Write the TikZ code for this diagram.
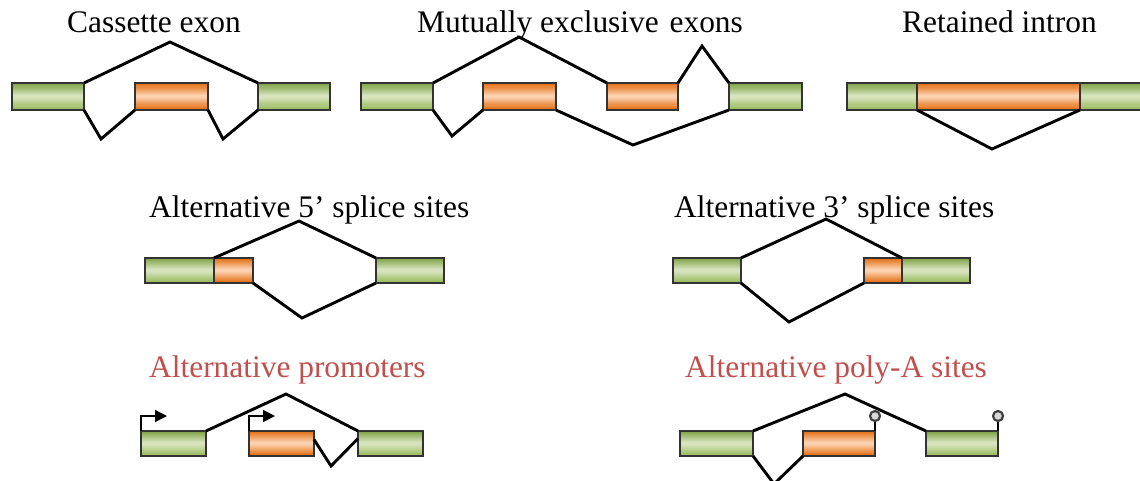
\documentclass[tikz,border=0pt]{standalone}
\usepackage{fontspec}
\setmainfont{Liberation Serif}
\usetikzlibrary{arrows.meta,calc}
\definecolor{exgreenA}{RGB}{122,158,64}
\definecolor{exgreenB}{RGB}{218,230,194}
\definecolor{exgreenC}{RGB}{150,184,88}
\definecolor{exorangeA}{RGB}{226,104,8}
\definecolor{exorangeB}{RGB}{252,214,182}
\definecolor{titlered}{RGB}{192,80,77}
\tikzset{
  % vertical three-colour gradient drawn as thin stripes
  stripefill/.style n args={3}{path picture={
    \foreach \k in {0,...,23}{
      \pgfmathsetmacro\pct{abs(100*(1-2*(\k+0.5)/24))}
      \ifnum\k<12 \def\edgecol{#1}\else\def\edgecol{#3}\fi
      \fill[\edgecol!\pct!#2]
        ($(path picture bounding box.north west)!{\k/24}!(path picture bounding box.south west)$)
        rectangle
        ($(path picture bounding box.north east)!{(\k+1.6)/24}!(path picture bounding box.south east)$);
    }}},
  exonbox/.style={draw=black!80, line width=1.5pt, anchor=north west, inner sep=0pt, outer sep=0pt},
  gbox/.style={exonbox, stripefill={exgreenA}{exgreenB}{exgreenC}},
  obox/.style={exonbox, stripefill={exorangeA}{exorangeB}{exorangeA}},
  junction/.style={draw=black, line width=2.9pt, line join=miter},
  title/.style={anchor=base west, inner sep=0pt, font=\fontsize{31.4}{38}\selectfont},
  promarrow/.style={draw=black, line width=1.5pt, -{Triangle[length=12pt,width=12pt]}},
  polya/.style={circle, draw=black!75, line width=2.2pt, fill=gray!30, minimum size=10pt, inner sep=0pt},
}
% exon box: name, left x, top y, width, height
\newcommand{\gexon}[5]{\node[gbox, minimum width=#4pt, minimum height=#5pt] (#1) at (#2,#3) {};}
\newcommand{\oexon}[5]{\node[obox, minimum width=#4pt, minimum height=#5pt] (#1) at (#2,#3) {};}
\begin{document}
\begin{tikzpicture}[x=1pt, y=-1pt]
\useasboundingbox (0,0) rectangle (1140,480);
\clip (0,0) rectangle (1140,480);

% ---------- titles ----------
\node[title] (tcas) at (67,32) {Cassette exon};
\node[title] (tmut) at (417,32) {Mutually exclusive\kern3pt\ exons};
\node[title] (tret) at (902,32) {Retained intron};
\node[title] (tfive) at (149,217) {Alternative 5’ splice sites};
\node[title] (tthree) at (674,217) {Alternative 3’ splice sites};
\node[title, text=titlered] (tprom) at (149,377) {Alternative promoters};
\node[title, text=titlered] (tpoly) at (685,377) {Alternative poly-A sites};

% ---------- cassette exon ----------
\gexon{c1}{12}{83}{72}{27}
\oexon{c2}{135}{83}{73}{27}
\gexon{c3}{258}{83}{72}{27}
\coordinate (cpk) at (170,42);
\coordinate (cv1) at (101,139);
\coordinate (cv2) at (223,139);
\draw[junction] (c1.north east) -- (cpk) -- (c3.north west);
\draw[junction] (c1.south east) -- (cv1) -- (c2.south west);
\draw[junction] (c2.south east) -- (cv2) -- (c3.south west);

% ---------- mutually exclusive exons ----------
\gexon{m1}{361}{83}{72}{27}
\oexon{m2}{483}{83}{73}{27}
\oexon{m3}{607}{83}{71}{27}
\gexon{m4}{729}{83}{73}{27}
\coordinate (mpk1) at (519,37);
\coordinate (mpk2) at (702,46);
\coordinate (mv1) at (452,136);
\coordinate (mv2) at (633,145);
\draw[junction] (m1.north east) -- (mpk1) -- (m3.north west);
\draw[junction] (m3.north east) -- (mpk2) -- (m4.north west);
\draw[junction] (m1.south east) -- (mv1) -- (m2.south west);
\draw[junction] (m2.south east) -- (mv2) -- (m4.south west);

% ---------- retained intron ----------
\gexon{r1}{847}{83}{70}{27}
\oexon{r2}{917}{83}{163}{27}
\gexon{r3}{1080}{83}{70}{27}
\coordinate (rv) at (992,149);
\draw[junction] (r2.south west) -- (rv) -- (r2.south east);

% ---------- alternative 5' splice sites ----------
\gexon{f1}{145}{258}{69}{25}
\oexon{f2}{214}{258}{39}{25}
\gexon{f3}{376}{258}{68}{25}
\coordinate (fpk) at (299,221);
\coordinate (fv) at (302,318);
\draw[junction] (f2.north west) -- (fpk) -- (f3.north west);
\draw[junction] (f2.south east) -- (fv) -- (f3.south west);

% ---------- alternative 3' splice sites ----------
\gexon{t1}{673}{258}{68}{25}
\oexon{t2}{864}{258}{38}{25}
\gexon{t3}{902}{258}{68}{25}
\coordinate (tpk) at (826,219);
\coordinate (tv) at (789,322);
\draw[junction] (t1.north east) -- (tpk) -- (t3.north west);
\draw[junction] (t1.south east) -- (tv) -- (t2.south west);

% ---------- alternative promoters ----------
\gexon{p1}{141}{431}{65}{25}
\oexon{p2}{249}{431}{65}{25}
\gexon{p3}{358}{431}{65}{25}
\coordinate (ppk) at (286,394);
\coordinate (pv) at (331,466);
\draw[junction] (p1.north east) -- (ppk) -- (p3.north west);
\draw[junction] ([yshift=4pt]p2.east) -- (pv) -- ([yshift=5pt]p3.west);
\draw[promarrow] (p1.north west) |- ++(26,-15);
\draw[promarrow] (p2.north west) |- ++(26,-15);

% ---------- alternative poly-A sites ----------
\gexon{a1}{680}{431}{73}{25}
\oexon{a2}{803}{431}{72}{25}
\gexon{a3}{926}{431}{72}{25}
\coordinate (apk) at (845,394);
\coordinate (av) at (774,484);
\draw[junction] (a1.north east) -- (apk) -- (a3.north west);
\draw[junction] (a1.south east) -- (av) -- (a2.south west);
\node[polya] (pa1) at (875,416) {};
\node[polya] (pa2) at (998,416) {};
\draw[black, line width=1.5pt] (a2.north east) -- (pa1);
\draw[black, line width=1.5pt] (a3.north east) -- (pa2);
\end{tikzpicture}
\end{document}
